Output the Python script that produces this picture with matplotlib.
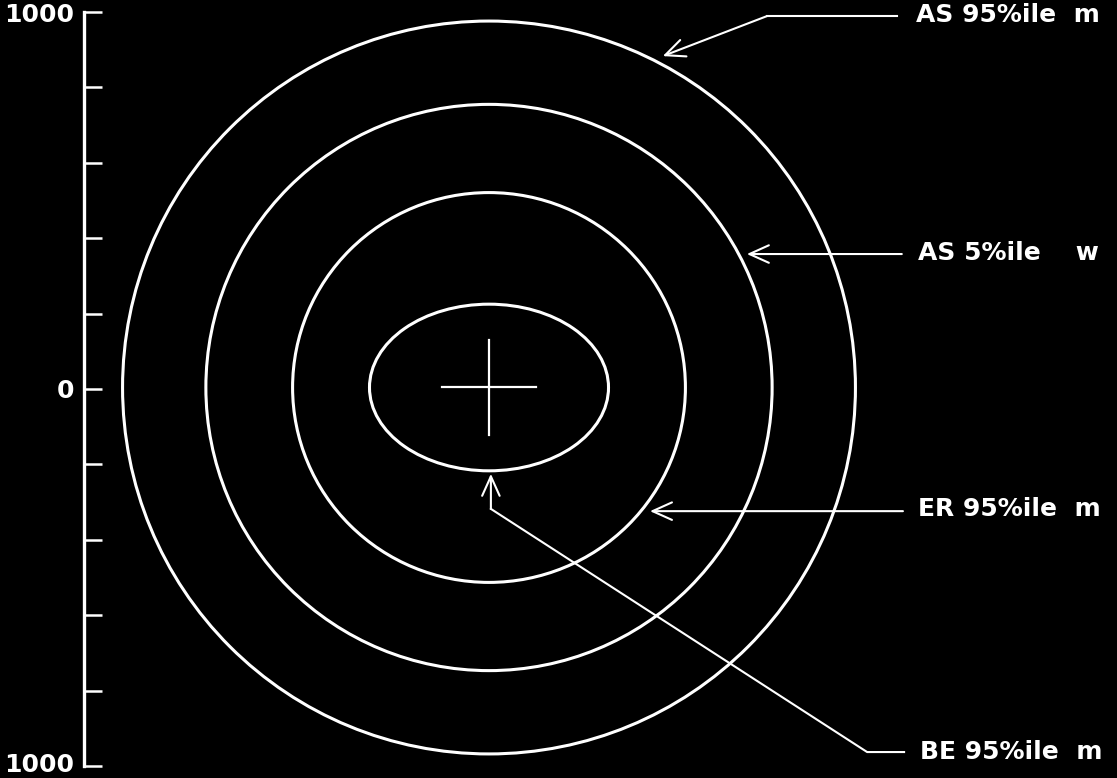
import matplotlib
matplotlib.use("Agg")
import matplotlib.pyplot as plt
from matplotlib.patches import Ellipse, FancyArrowPatch
from matplotlib.lines import Line2D
from matplotlib.transforms import ScaledTranslation

# ---- data ----
ring_labels = ["AS 95%ile  m", "AS 5%ile    w", "ER 95%ile  m", "BE 95%ile  m"]
ring_rx = [972, 751, 521, 317]
ring_ry = [972, 751, 517, 221]
center_x = 0
center_y = 4
cross_half = 125
y_ticks = [-1000, -800, -600, -400, -200, 0, 200, 400, 600, 800, 1000]
y_ticklabels = ["1000", "", "", "", "", "0", "", "", "", "", "1000"]

# annotation paths (data units): list of points from arrow tip to label side
label_paths = [
    [(461, 883), (737, 989), (1082, 989)],
    [(684, 358), (1095, 358)],
    [(427, -324), (1098, -324)],
    [(5, -225), (5, -318), (1003, -963), (1101, -963)],
]
label_pos = [(1132, 993), (1137, 361), (1137, -317), (1142, -963)]

# ---- figure ----
W, H = 1117, 778
fig = plt.figure(figsize=(W / 100, H / 100), dpi=100, facecolor="black")
ax = fig.add_axes([84 / W, 12 / H, (W - 84) / W, 754 / H], facecolor="black")
scale = 754 / 2000.0
ax.set_xlim((84 - 489) / scale, (W - 489) / scale)
ax.set_ylim(-1000, 1000)

for s in ["top", "right", "bottom"]:
    ax.spines[s].set_visible(False)
ax.spines["left"].set_color("white")
ax.spines["left"].set_linewidth(2.4)
ax.set_xticks([])
ax.set_yticks(y_ticks)
ax.set_yticklabels(y_ticklabels)
ax.tick_params(axis="y", direction="in", length=13, width=1.8, colors="white",
               pad=7, labelsize=18)
for t in ax.get_yticklabels():
    t.set_fontweight("bold")
    t.set_family("DejaVu Sans")

# nudge the bottom label up a little so it stays inside the canvas
bottom_tick = ax.yaxis.get_major_ticks()[0]
bottom_tick.label1.set_transform(bottom_tick.label1.get_transform()
                                 + ScaledTranslation(0, 3 / 100, fig.dpi_scale_trans))

# rings
for rx, ry in zip(ring_rx, ring_ry):
    ax.add_patch(Ellipse((center_x, center_y), 2 * rx, 2 * ry, fill=False,
                         ec="white", lw=2.2))

# cross
ax.add_line(Line2D([center_x - cross_half, center_x + cross_half], [center_y, center_y],
                   color="white", lw=1.6))
ax.add_line(Line2D([center_x, center_x], [center_y - cross_half, center_y + cross_half],
                   color="white", lw=1.6))

# leaders + labels
for path, lab, pos in zip(label_paths, ring_labels, label_pos):
    xs = [p[0] for p in path]
    ys = [p[1] for p in path]
    ax.add_line(Line2D(xs[1:], ys[1:], color="white", lw=1.5, clip_on=False))
    arr = FancyArrowPatch(path[1], path[0], arrowstyle="->,head_length=1.0,head_width=0.45",
                          mutation_scale=14, color="white", lw=1.5, shrinkA=0, shrinkB=0)
    ax.add_patch(arr)
    ax.text(pos[0], pos[1], lab, color="white", fontsize=18, fontweight="bold",
            family="DejaVu Sans", ha="left", va="center", clip_on=False)

fig.savefig("out.png", dpi=100, facecolor="black")
